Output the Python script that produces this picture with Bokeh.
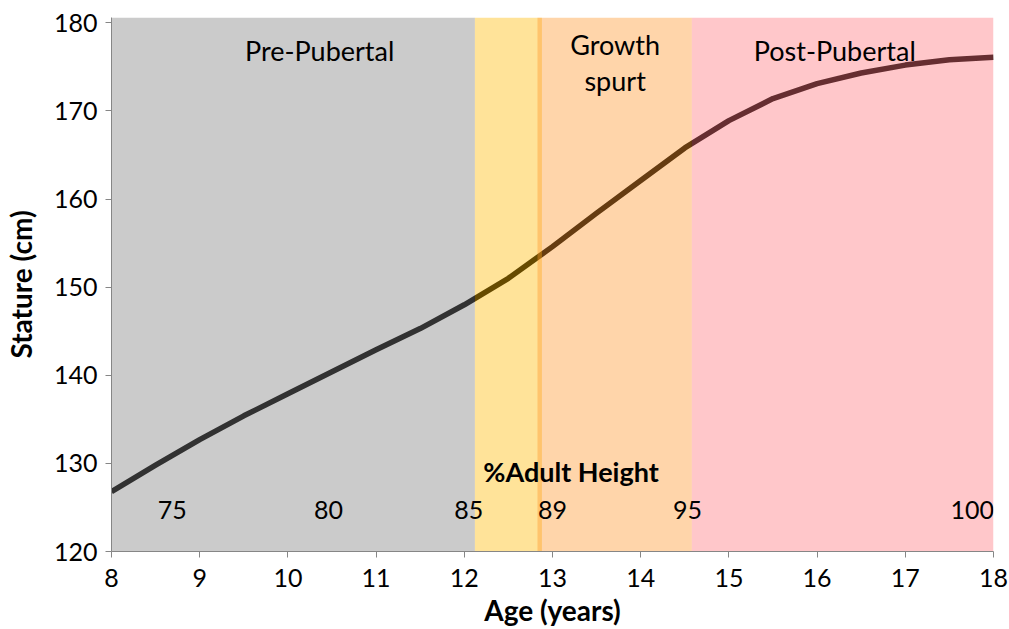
from bokeh.plotting import figure
from bokeh.models import ColumnDataSource, FixedTicker, Range1d
from bokeh.core.properties import value
from bokeh.embed import file_html
from bokeh.resources import INLINE

# ---- data ----
age = [8, 8.5, 9, 9.5, 10, 10.5, 11, 11.5, 12, 12.5, 13, 13.5, 14, 14.5, 15, 15.5, 16, 16.5, 17, 17.5, 18]
stature = [126.8, 129.8, 132.7, 135.4, 137.9, 140.4, 142.9, 145.3, 148.0, 151.0, 154.6, 158.4, 162.1, 165.8,
           168.9, 171.4, 173.1, 174.3, 175.2, 175.8, 176.1]

phase_names = ["Pre-Pubertal", "Early", "Growth spurt", "Post-Pubertal"]
phase_start = [8.0, 12.12, 12.83, 14.58]
phase_end = [12.12, 12.88, 14.58, 18.0]
phase_colors = ["#7d7d7d", "#ffb900", "#ff962a", "#ff737a"]

phase_label_text = ["Pre-Pubertal", "Growth", "spurt", "Post-Pubertal"]
phase_label_x = [10.36, 13.71, 13.71, 16.2]
phase_label_y = [176.9, 177.5, 173.5, 176.8]

pct_labels = ["75", "80", "85", "89", "95", "100"]
pct_x = [8.69, 10.46, 12.05, 13.0, 14.53, 17.76]
pct_y = [124.7] * 6
pct_title = ["%Adult Height"]
pct_title_x = [13.21]
pct_title_y = [129.1]

x_ticks = list(range(8, 19))
y_ticks = [120, 130, 140, 150, 160, 170, 180]

FONT = "Lato"

p = figure(width=1009, height=629, output_backend="svg", toolbar_location=None,
           x_range=Range1d(8, 18), y_range=Range1d(120, 180.6),
           min_border_left=110, min_border_right=16, min_border_top=17, min_border_bottom=78)
p.outline_line_color = None
p.xgrid.visible = False
p.ygrid.visible = False
p.background_fill_color = "white"

# curve (drawn first, translucent bands tint it)
p.line(age, stature, line_color="black", line_width=5.5, line_join="round")

# translucent phase bands on top
bands = ColumnDataSource(dict(left=phase_start, right=phase_end,
                              bottom=[120] * 4, top=[180.6] * 4, color=phase_colors))
p.quad(left="left", right="right", bottom="bottom", top="top", source=bands,
       fill_color="color", fill_alpha=0.4, line_color=None)

# phase labels
p.text(x=phase_label_x, y=phase_label_y, text=phase_label_text, text_align="center",
       text_baseline="middle", text_font=value(FONT), text_font_size="27px", text_color="black")

# % adult height
p.text(x=pct_x, y=pct_y, text=pct_labels, text_align="center", text_baseline="middle",
       text_font=value(FONT), text_font_size="25px", text_color="black")
p.text(x=pct_title_x, y=pct_title_y, text=pct_title, text_align="center", text_baseline="middle",
       text_font=value(FONT), text_font_size="27px", text_font_style="bold", text_color="black")

for ax in (p.xaxis[0], p.yaxis[0]):
    ax.axis_line_color = "#868686"
    ax.major_tick_line_color = "#868686"
    ax.major_tick_out = 6
    ax.major_tick_in = 0
    ax.minor_tick_out = 0
    ax.minor_tick_in = 0
    ax.major_label_text_font = FONT
    ax.major_label_text_font_size = "25px"
    ax.major_label_text_color = "black"
    ax.axis_label_text_font = FONT
    ax.axis_label_text_font_size = "28px"
    ax.axis_label_text_font_style = "bold"
    ax.axis_label_text_color = "black"

p.xaxis.ticker = FixedTicker(ticks=x_ticks)
p.yaxis.ticker = FixedTicker(ticks=y_ticks)
p.xaxis.axis_label = "Age (years)"
p.yaxis.axis_label = "Stature (cm)"
p.xaxis.major_label_standoff = 11
p.yaxis.major_label_standoff = 8
p.xaxis.axis_label_standoff = 3
p.yaxis.axis_label_standoff = 13

open("out.html", "w").write(file_html(p, INLINE))
